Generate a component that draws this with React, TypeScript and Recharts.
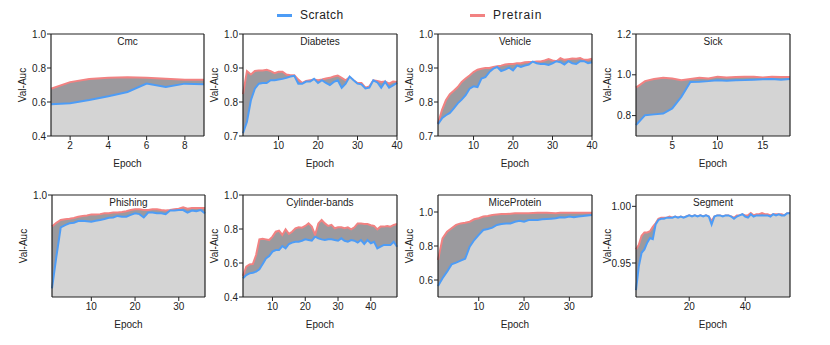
import React from "react";
import { ComposedChart, Area, XAxis, YAxis, ReferenceLine } from "recharts";

// ---- data ----
const cmcScratch = [0.587, 0.593, 0.612, 0.634, 0.659, 0.708, 0.688, 0.708, 0.704];
const cmcPretrain = [0.678, 0.717, 0.735, 0.743, 0.745, 0.743, 0.737, 0.731, 0.731];

const diabetesScratch = [
  0.708, 0.742, 0.805, 0.839, 0.854, 0.856, 0.856, 0.864, 0.864, 0.866,
  0.868, 0.871, 0.875, 0.877, 0.854, 0.854, 0.86, 0.86, 0.868, 0.856,
  0.864, 0.856, 0.85, 0.859, 0.864, 0.842, 0.854, 0.875, 0.864, 0.854,
  0.852, 0.84, 0.842, 0.864, 0.858, 0.842, 0.86, 0.842, 0.849, 0.856,
];
const diabetesPretrain = [
  0.823, 0.891, 0.881, 0.891, 0.893, 0.893, 0.895, 0.891, 0.885, 0.889,
  0.889, 0.881, 0.879, 0.879, 0.866, 0.856, 0.862, 0.864, 0.866, 0.864,
  0.866, 0.869, 0.871, 0.875, 0.878, 0.871, 0.864, 0.873, 0.864, 0.856,
  0.856, 0.842, 0.846, 0.864, 0.862, 0.859, 0.86, 0.854, 0.86, 0.859,
];

const vehicleScratch = [
  0.735, 0.752, 0.761, 0.768, 0.781, 0.796, 0.807, 0.82, 0.839, 0.846,
  0.844, 0.869, 0.873, 0.888, 0.898, 0.903, 0.891, 0.895, 0.901, 0.893,
  0.907, 0.903, 0.907, 0.91, 0.919, 0.914, 0.912, 0.912, 0.909, 0.914,
  0.92, 0.917, 0.91, 0.92, 0.914, 0.912, 0.92, 0.92, 0.914, 0.917,
];
const vehiclePretrain = [
  0.737, 0.776, 0.805, 0.823, 0.833, 0.844, 0.859, 0.869, 0.878, 0.888,
  0.895, 0.898, 0.9, 0.9, 0.903, 0.905, 0.907, 0.91, 0.912, 0.912,
  0.914, 0.914, 0.917, 0.918, 0.918, 0.919, 0.919, 0.922, 0.926, 0.922,
  0.92, 0.929, 0.924, 0.926, 0.928, 0.927, 0.929, 0.924, 0.924, 0.927,
];

const sickScratch = [
  0.754, 0.802, 0.806, 0.81, 0.835, 0.892, 0.965, 0.966, 0.969, 0.973,
  0.971, 0.973, 0.974, 0.976, 0.978, 0.979, 0.976, 0.979,
];
const sickPretrain = [
  0.937, 0.969, 0.979, 0.986, 0.982, 0.973, 0.979, 0.986, 0.982, 0.991,
  0.987, 0.989, 0.991, 0.991, 0.987, 0.991, 0.989, 0.989,
];

const phishingScratch = [
  0.634, 0.758, 0.873, 0.882, 0.889, 0.891, 0.898, 0.899, 0.897, 0.895,
  0.899, 0.902, 0.906, 0.911, 0.912, 0.918, 0.915, 0.915, 0.922, 0.928,
  0.925, 0.912, 0.931, 0.931, 0.928, 0.928, 0.925, 0.939, 0.939, 0.941,
  0.941, 0.931, 0.939, 0.936, 0.941, 0.928,
];
const phishingPretrain = [
  0.876, 0.891, 0.902, 0.905, 0.907, 0.91, 0.915, 0.918, 0.92, 0.924,
  0.924, 0.925, 0.928, 0.928, 0.931, 0.931, 0.933, 0.936, 0.941, 0.944,
  0.944, 0.941, 0.941, 0.944, 0.944, 0.941, 0.939, 0.941, 0.944, 0.946,
  0.952, 0.946, 0.949, 0.949, 0.949, 0.949,
];

const cylinderScratch = [
  0.51, 0.529, 0.539, 0.543, 0.549, 0.563, 0.594, 0.627, 0.641, 0.667,
  0.676, 0.676, 0.7, 0.686, 0.712, 0.72, 0.725, 0.725, 0.731, 0.739,
  0.735, 0.731, 0.755, 0.745, 0.739, 0.735, 0.739, 0.739, 0.735, 0.731,
  0.745, 0.731, 0.725, 0.735, 0.731, 0.72, 0.735, 0.712, 0.735, 0.716,
  0.725, 0.686, 0.696, 0.706, 0.706, 0.706, 0.725, 0.696,
];
const cylinderPretrain = [
  0.524, 0.578, 0.592, 0.594, 0.647, 0.739, 0.743, 0.739, 0.735, 0.755,
  0.784, 0.79, 0.765, 0.798, 0.771, 0.784, 0.804, 0.81, 0.808, 0.818,
  0.833, 0.814, 0.765, 0.833, 0.853, 0.833, 0.818, 0.824, 0.804, 0.81,
  0.81, 0.804, 0.81, 0.798, 0.81, 0.833, 0.833, 0.829, 0.829, 0.822,
  0.818, 0.798, 0.814, 0.814, 0.818, 0.814, 0.824, 0.829,
];

const miceScratch = [
  0.565, 0.61, 0.649, 0.692, 0.702, 0.714, 0.725, 0.796, 0.835, 0.865,
  0.894, 0.9, 0.908, 0.924, 0.929, 0.933, 0.933, 0.943, 0.949, 0.943,
  0.953, 0.953, 0.953, 0.957, 0.959, 0.961, 0.963, 0.969, 0.967, 0.973,
  0.969, 0.973, 0.976, 0.98, 0.982,
];
const micePretrain = [
  0.718, 0.845, 0.884, 0.904, 0.924, 0.933, 0.937, 0.943, 0.957, 0.963,
  0.973, 0.976, 0.982, 0.986, 0.988, 0.988, 0.99, 0.992, 0.992, 0.992,
  0.992, 0.994, 0.996, 0.996, 0.996, 0.994, 0.992, 0.996, 0.996, 0.996,
  0.996, 0.996, 0.996, 0.996, 0.996,
];

const segmentScratch = [
  0.926, 0.947, 0.959, 0.962, 0.968, 0.972, 0.971, 0.984,
  0.988, 0.989, 0.989, 0.99, 0.99, 0.99, 0.991, 0.99, 0.991, 0.99,
  0.991, 0.992, 0.991, 0.992, 0.991, 0.992, 0.991, 0.992, 0.991, 0.984,
  0.991, 0.992, 0.992, 0.991, 0.992, 0.992, 0.991, 0.989, 0.991, 0.992,
  0.993, 0.991, 0.99, 0.993, 0.991, 0.992, 0.992, 0.992, 0.992, 0.992,
  0.991, 0.993, 0.992, 0.993, 0.992, 0.992, 0.994, 0.994,
];
const segmentPretrain = [
  0.962, 0.966, 0.974, 0.977, 0.977, 0.978, 0.982, 0.985,
  0.989, 0.99, 0.99, 0.99, 0.991, 0.99, 0.991, 0.99, 0.991, 0.99,
  0.991, 0.992, 0.991, 0.992, 0.991, 0.992, 0.991, 0.992, 0.991, 0.987,
  0.991, 0.992, 0.992, 0.991, 0.992, 0.992, 0.991, 0.99, 0.992, 0.992,
  0.993, 0.992, 0.992, 0.994, 0.992, 0.993, 0.993, 0.994, 0.993, 0.993,
  0.992, 0.993, 0.993, 0.993, 0.993, 0.992, 0.994, 0.994,
];

const BLUE = "#4d9cf6";
const RED = "#f28282";
const LIGHT = "#d4d4d4";
const DARK = "#9b9a9e";
const INK = "#222";
const FONT = "'Liberation Sans', Arial, Helvetica, sans-serif";

interface PanelProps {
  title: string;
  scratch: number[];
  pretrain: number[];
  yDomain: [number, number];
  yTicks: number[];
  xTicks: number[];
  digits: number;
  left: number; // plot-area left in page px
  top: number;  // plot-area top in page px
  w: number;    // plot-area width
}

const PLOT_H = 102;

function Panel({ title, scratch, pretrain, yDomain, yTicks, xTicks, digits, left, top, w }: PanelProps) {
  const data = scratch.map((s, i) => ({ epoch: i + 1, scratch: s, pretrain: pretrain[i] }));
  const xMax = scratch.length;
  const tick = { fontSize: 10, fill: INK, fontFamily: FONT };
  return (
    <div style={{ position: "absolute", left: left - 50, top: top - 10 }}>
      <ComposedChart width={50 + w + 8} height={10 + PLOT_H + 40} data={data}
        margin={{ top: 10, right: 8, bottom: 0, left: 0 }}>
        <XAxis dataKey="epoch" type="number" domain={[1, xMax]} ticks={xTicks}
          tick={tick} tickSize={4} tickMargin={2} height={40}
          axisLine={{ stroke: INK, strokeWidth: 1.2 }} tickLine={{ stroke: INK }}
          label={{ value: "Epoch", position: "insideBottom", offset: 9, fontSize: 10, fill: INK, fontFamily: FONT }} />
        <YAxis type="number" domain={yDomain} ticks={yTicks} allowDataOverflow width={50}
          tick={tick} tickSize={4} tickMargin={1} tickFormatter={(v: number) => v.toFixed(digits)}
          axisLine={{ stroke: INK, strokeWidth: 1.2 }} tickLine={{ stroke: INK }}
          label={{ value: "Val-Auc", angle: -90, position: "insideLeft", offset: 21,
            fontSize: 10, fill: INK, fontFamily: FONT, style: { textAnchor: "middle" } }} />
        <Area type="linear" dataKey="pretrain" stroke={RED} strokeWidth={2} fill={DARK}
          fillOpacity={1} dot={false} activeDot={false} isAnimationActive={false} />
        <Area type="linear" dataKey="scratch" stroke={BLUE} strokeWidth={2} fill={LIGHT}
          fillOpacity={1} dot={false} activeDot={false} isAnimationActive={false} />
        <ReferenceLine y={yDomain[1]} stroke={INK} strokeWidth={1.2}
          label={{ value: title, position: "insideTop", offset: 4, fontSize: 10, fill: INK, fontFamily: FONT }} />
        <ReferenceLine x={xMax} stroke={INK} strokeWidth={1.2} />
      </ComposedChart>
    </div>
  );
}

function Legend() {
  const item = (color: string, text: string, x: number, spacing: number) => (
    <div style={{ position: "absolute", left: x, top: 8, display: "flex", alignItems: "center" }}>
      <div style={{ width: 15, height: 3, background: color, marginRight: 8 }} />
      <span style={{ fontSize: 12, color: INK, fontFamily: FONT, letterSpacing: spacing }}>{text}</span>
    </div>
  );
  return (
    <>
      {item(BLUE, "Scratch", 277, 0.4)}
      {item(RED, "Pretrain", 470, 0.9)}
    </>
  );
}

export default function App() {
  return (
    <div style={{ position: "absolute", left: 0, top: 0, width: 830, height: 345, background: "#fff", overflow: "hidden" }}>
      <Legend />
      <Panel title="Cmc" scratch={cmcScratch} pretrain={cmcPretrain} yDomain={[0.4, 1.0]}
        yTicks={[0.4, 0.6, 0.8, 1.0]} xTicks={[2, 4, 6, 8]} digits={1} left={51} top={34} w={153} />
      <Panel title="Diabetes" scratch={diabetesScratch} pretrain={diabetesPretrain} yDomain={[0.7, 1.0]}
        yTicks={[0.7, 0.8, 0.9, 1.0]} xTicks={[10, 20, 30, 40]} digits={1} left={243} top={34} w={154} />
      <Panel title="Vehicle" scratch={vehicleScratch} pretrain={vehiclePretrain} yDomain={[0.7, 1.0]}
        yTicks={[0.7, 0.8, 0.9, 1.0]} xTicks={[10, 20, 30, 40]} digits={1} left={438} top={34} w={154} />
      <Panel title="Sick" scratch={sickScratch} pretrain={sickPretrain} yDomain={[0.7, 1.2]}
        yTicks={[0.8, 1.0, 1.2]} xTicks={[5, 10, 15]} digits={1} left={636} top={34} w={154} />
      <Panel title="Phishing" scratch={phishingScratch} pretrain={phishingPretrain} yDomain={[0.6, 1.0]}
        yTicks={[1.0]} xTicks={[10, 20, 30]} digits={1} left={52} top={195} w={153} />
      <Panel title="Cylinder-bands" scratch={cylinderScratch} pretrain={cylinderPretrain} yDomain={[0.4, 1.0]}
        yTicks={[0.4, 0.6, 0.8, 1.0]} xTicks={[10, 20, 30, 40]} digits={1} left={243} top={195} w={154} />
      <Panel title="MiceProtein" scratch={miceScratch} pretrain={micePretrain} yDomain={[0.5, 1.1]}
        yTicks={[0.6, 0.8, 1.0]} xTicks={[10, 20, 30]} digits={1} left={438} top={195} w={154} />
      <Panel title="Segment" scratch={segmentScratch} pretrain={segmentPretrain} yDomain={[0.92, 1.01]}
        yTicks={[0.95, 1.0]} xTicks={[20, 40]} digits={2} left={636} top={195} w={154} />
    </div>
  );
}
